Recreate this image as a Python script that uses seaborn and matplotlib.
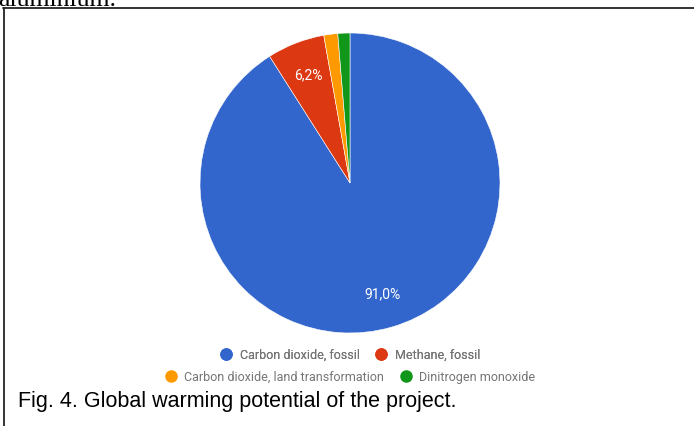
import numpy as np
import matplotlib
matplotlib.use('Agg')
import matplotlib.pyplot as plt
from matplotlib.lines import Line2D
import seaborn as sns

# dados
categorias = ['Carbon dioxide, fossil', 'Methane, fossil',
              'Carbon dioxide, land transformation', 'Dinitrogen monoxide']
valores = [91.0, 6.2, 1.5, 1.3]
cores = sns.color_palette(['#3366CC', '#DC3912', '#FF9900', '#109618'])
legenda_linha1 = [0, 1]
legenda_linha2 = [2, 3]
texto_topo = 'aluminium.'
legenda_fig = 'Fig. 4. Global warming potential of the project.'

sns.set_theme(style='white')
plt.rcParams['font.family'] = ['Roboto', 'DejaVu Sans']

W, H = 694, 426
fig = plt.figure(figsize=(W / 100, H / 100), dpi=100)
fig.patch.set_facecolor('white')

# moldura (topo e esquerda)
fig.add_artist(Line2D([3 / W, 1.0], [1 - 8 / H, 1 - 8 / H], color='#222222', lw=1.3))
fig.add_artist(Line2D([4 / W, 4 / W], [0.0, 1 - 8 / H], color='#222222', lw=1.3))

fig.text(-2 / W, 1 - 6 / H, texto_topo, fontsize=18.5, family='Liberation Serif',
         va='baseline', ha='left', color='black')

# pizza
cx, cy, r = 350, 183, 150
ax = fig.add_axes([(cx - r) / W, 1 - (cy + r) / H, 2 * r / W, 2 * r / H])

def fmt_pct(p):
    return f"{p:.1f}%".replace('.', ',') if p > 5 else ''

wedges, _, autotexts = ax.pie(valores, colors=cores, startangle=90, counterclock=False,
                              autopct=fmt_pct, pctdistance=0.77, radius=1,
                              wedgeprops=dict(linewidth=0.4, edgecolor='white'),
                              textprops=dict(color='white', fontsize=10))
ax.set_xlim(-1, 1)
ax.set_ylim(-1, 1)
ax.set_aspect('equal')
ax.axis('off')

def linha_legenda(idx, y):
    handles = [Line2D([], [], marker='o', linestyle='', markersize=8,
                      markerfacecolor=cores[i], markeredgecolor=cores[i]) for i in idx]
    leg = fig.legend(handles, [categorias[i] for i in idx], ncol=len(idx),
                     loc='center', bbox_to_anchor=(350 / W, 1 - y / H), frameon=False,
                     fontsize=9, handletextpad=0.6, columnspacing=1.2, handlelength=1.0,
                     borderpad=0)
    for t in leg.get_texts():
        t.set_color('#757575')
    return leg

l1 = linha_legenda(legenda_linha1, 355)
fig.add_artist(l1)
linha_legenda(legenda_linha2, 377)

fig.text(18 / W, 1 - 402 / H, legenda_fig, fontsize=15.5, family='Liberation Sans',
         va='center', ha='left', color='black')

fig.savefig('out.png', dpi=100)
